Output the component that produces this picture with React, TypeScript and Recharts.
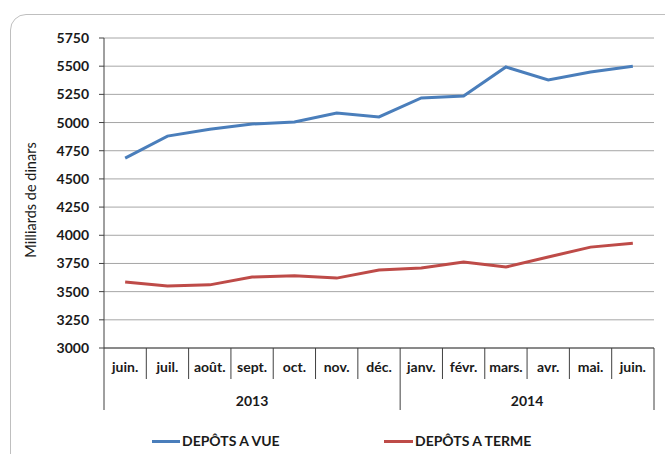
import { LineChart, Line, XAxis, YAxis, CartesianGrid } from "recharts";

const months = ["juin.", "juil.", "août.", "sept.", "oct.", "nov.", "déc.", "janv.", "févr.", "mars.", "avr.", "mai.", "juin."];
const years = ["2013", "2013", "2013", "2013", "2013", "2013", "2013", "2014", "2014", "2014", "2014", "2014", "2014"];
const depotsVue = [4685, 4880, 4940, 4987, 5005, 5085, 5050, 5218, 5235, 5493, 5377, 5448, 5500];
const depotsTerme = [3585, 3550, 3560, 3630, 3640, 3620, 3692, 3710, 3763, 3718, 3807, 3895, 3930];
const yTicks = [3000, 3250, 3500, 3750, 4000, 4250, 4500, 4750, 5000, 5250, 5500, 5750];

const data = months.map((m, i) => ({ month: m, year: years[i], vue: depotsVue[i], terme: depotsTerme[i] }));

const FONT = "Lato, 'Open Sans', sans-serif";
const BLUE = "#4a7ebb";
const RED = "#be4b48";
const AXIS = "#404040";
const TEXT = "#1a1a1a";
const PLOT_LEFT = 104;
const PLOT_RIGHT = 654;
const STEP = (PLOT_RIGHT - PLOT_LEFT) / months.length;

function MonthTick(props: any) {
  const { x, y, payload } = props;
  const i = payload.index;
  const left = x - STEP / 2;
  const isYearStart = i === 0 || years[i] !== years[i - 1];
  let yearLabel = null;
  if (isYearStart) {
    let n = 0;
    while (i + n < years.length && years[i + n] === years[i]) n++;
    yearLabel = (
      <text x={x + ((n - 1) / 2) * STEP} y={y + 58} textAnchor="middle" fontSize={14} fontWeight="bold" fill={TEXT} fontFamily={FONT}>
        {years[i]}
      </text>
    );
  }
  return (
    <g>
      <line x1={left} y1={y} x2={left} y2={y + (isYearStart ? 62 : 31)} stroke={AXIS} strokeWidth={1} />
      {i === months.length - 1 && (
        <line x1={x + STEP / 2} y1={y} x2={x + STEP / 2} y2={y + 62} stroke={AXIS} strokeWidth={1} />
      )}
      <text x={x} y={y + 24} textAnchor="middle" fontSize={14} fontWeight="bold" fill={TEXT} fontFamily={FONT}>
        {payload.value}
      </text>
      {yearLabel}
    </g>
  );
}

function YLabel() {
  return (
    <text x={36} y={200} transform="rotate(-90 36 200)" textAnchor="middle" fontSize={14.5} fill={TEXT} fontFamily={FONT}>
      Milliards de dinars
    </text>
  );
}

const legendStyle = {
  position: "absolute" as const,
  top: 432,
  display: "flex",
  alignItems: "center",
  fontFamily: FONT,
  fontSize: 14,
  fontWeight: "bold" as const,
  color: TEXT,
  lineHeight: "18px",
};

export default function App() {
  return (
    <div style={{ position: "absolute", left: 0, top: 0, width: 665, height: 454, overflow: "hidden", background: "#fff" }}>
      <div
        style={{
          position: "absolute",
          left: 10,
          top: 14,
          width: 700,
          height: 500,
          border: "1px solid #bfbfbf",
          borderRadius: 16,
        }}
      />
      <div style={{ position: "absolute", left: 0, top: 0 }}>
        <LineChart width={665} height={454} data={data} margin={{ top: 38, right: 11, bottom: 76, left: 0 }}>
          <CartesianGrid vertical={false} stroke="#a6a6a6" />
          <XAxis
            dataKey="month"
            height={30}
            interval={0}
            padding={{ left: STEP / 2, right: STEP / 2 }}
            tickLine={false}
            tickSize={0}
            tickMargin={0}
            axisLine={{ stroke: AXIS }}
            tick={<MonthTick />}
          />
          <YAxis
            width={104}
            domain={[3000, 5750]}
            ticks={yTicks}
            interval={0}
            tickSize={5}
            tickMargin={10}
            tickLine={{ stroke: AXIS }}
            axisLine={{ stroke: AXIS }}
            tick={{ fontSize: 14, fontWeight: "bold", fill: TEXT, fontFamily: FONT }}
            label={<YLabel />}
          />
          <Line dataKey="vue" stroke={BLUE} strokeWidth={3} dot={false} isAnimationActive={false} />
          <Line dataKey="terme" stroke={RED} strokeWidth={3} dot={false} isAnimationActive={false} />
        </LineChart>
      </div>
      <div style={{ ...legendStyle, left: 152 }}>
        <span style={{ display: "inline-block", width: 28, height: 3, background: BLUE, marginRight: 2 }} />
        <span>DEPÔTS A VUE</span>
      </div>
      <div style={{ ...legendStyle, left: 384 }}>
        <span style={{ display: "inline-block", width: 29, height: 3, background: RED, marginRight: 2 }} />
        <span>DEPÔTS A TERME</span>
      </div>
    </div>
  );
}
